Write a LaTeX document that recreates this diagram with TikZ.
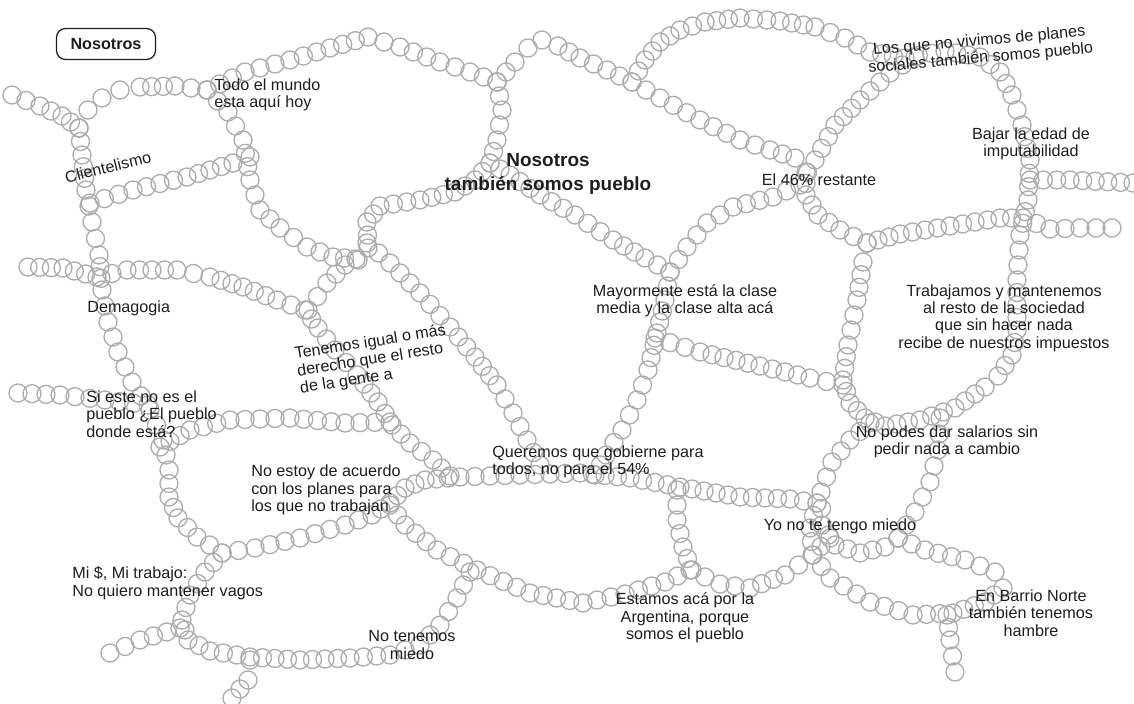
\documentclass[tikz,border=0pt]{standalone}
\usepackage{fontspec}
\setmainfont{Liberation Sans}
\definecolor{beadgray}{RGB}{172,172,172}
\definecolor{inkgray}{RGB}{30,30,30}
\newcommand{\beadline}[4]{%
  \pgfmathsetmacro\bl{veclen(#3-#1,#4-#2)}%
  \pgfmathtruncatemacro\bn{max(1,round(\bl/13.5))}%
  \foreach \k in {1,...,\bn}{%
    \pgfmathsetmacro\bx{#1+(#3-#1)*\k/\bn}%
    \pgfmathsetmacro\by{#2+(#4-#2)*\k/\bn}%
    \draw[bead] (\bx,\by) circle (1.8mm);}}
\newcommand{\beadchain}[3]{%
  \draw[bead] (#1,#2) circle (1.8mm);
  \foreach \x/\y [remember=\x as \lx (initially #1), remember=\y as \ly (initially #2)] in {#3}{\beadline{\lx}{\ly}{\x}{\y}}}
\begin{document}
\begin{tikzpicture}
[x=0.2mm,y=-0.2mm,
 bead/.style={draw=beadgray,line width=0.75pt},
 lbl/.style={font=\fontsize{9.2}{9.9}\selectfont,text=inkgray,inner sep=0pt},
 ttl/.style={font=\fontsize{10.8}{13.6}\selectfont\bfseries,text=inkgray,inner sep=0pt,align=center}]
\useasboundingbox (0,0) rectangle (1134,704);

\beadchain{12}{95}{40/106, 62/116, 79/128}
\beadchain{79}{128}{88/110, 102/98, 120/90, 140/87, 175/86, 207/90}
\beadchain{79}{128}{82/155, 86/190, 92/222, 99/255, 102/290, 108/322, 118/352, 132/382, 150/410, 163/440, 169/470, 169/497, 178/518, 197/537, 222/553, 255/548, 300/538, 345/525, 372/515, 390/503, 405/488, 425/480, 460/477, 520/475, 580/473, 630/478, 680/487, 740/497, 790/499, 817/503}
\beadchain{90}{203}{133/190, 187/177, 233/163, 250/157}
\beadchain{207}{90}{245/72, 290/60, 330/48, 368/37, 400/47, 440/62, 470/72, 497/82}
\beadchain{497}{82}{502/110, 497/140, 490/163, 510/175, 540/195, 575/215, 613/240, 645/258, 670/272}
\beadchain{497}{82}{515/62, 528/48, 542/40, 558/46, 580/58, 607/70, 632/82, 660/98, 700/120, 740/140, 770/150, 795/158, 806/172, 806/195, 818/215, 840/230, 867/243}
\beadchain{632}{82}{645/60, 660/42, 680/30, 705/22, 740/18, 780/21, 815/27, 845/38, 870/52, 905/58, 945/51, 980/57, 1000/72, 1012/95, 1022/125, 1030/160, 1028/200, 1020/235, 1017/280, 1017/330, 1012/355, 998/376, 985/387, 955/408, 920/420, 885/426, 865/418, 850/403, 843/380, 848/345, 857/300, 863/262, 867/243}
\beadchain{670}{272}{687/247, 707/223, 733/207, 773/197, 800/185, 815/160, 835/125, 860/100, 890/73, 915/57}
\beadchain{207}{90}{228/112, 243/140, 250/180, 260/210, 280/228, 307/247, 333/257, 356/259, 368/248, 367/222, 380/206, 420/200, 455/192, 475/180, 490/163}
\beadchain{367}{243}{390/263, 420/293, 450/327, 475/357, 497/385, 513/413, 527/440, 540/465}
\beadchain{28}{267}{63/268, 97/277, 127/270, 177/270, 210/277, 243/287, 277/300, 305/310, 318/328, 335/350, 357/375, 378/402, 392/425, 410/443, 433/460, 450/476}
\beadchain{308}{310}{327/283, 345/265, 358/260}
\beadchain{670}{272}{665/300, 657/333, 648/370, 637/400, 622/430, 606/455, 595/475}
\beadchain{655}{338}{700/352, 760/366, 810/378, 843/385}
\beadchain{18}{393}{60/395, 105/400, 148/405}
\beadchain{160}{447}{190/430, 230/420, 290/418, 345/423, 390/422}
\beadchain{390}{505}{405/525, 437/550, 477/570, 530/593, 583/603, 625/594, 665/582, 690/570, 720/584, 750/588, 785/575, 812/555, 830/538}
\beadchain{222}{553}{205/572, 190/595, 182/620, 188/640, 210/651, 250/657, 300/660, 350/658, 390/655, 420/645, 440/625, 457/598, 470/572}
\beadchain{110}{653}{140/640, 180/628}
\beadchain{250}{660}{248/680, 232/698}
\beadchain{677}{490}{677/520, 683/547, 692/570}
\beadchain{870}{423}{850/440, 832/462, 821/492, 822/525, 835/545, 860/553, 885/547, 898/538}
\beadchain{940}{418}{938/450, 930/482, 915/512, 898/538}
\beadchain{817}{503}{810/528, 813/555, 830/578, 870/602, 913/615, 953/613, 985/602, 1003/588, 995/572, 965/560, 925/550, 898/538}
\beadchain{947}{615}{950/640, 955/672}
\beadchain{1030}{180}{1070/180, 1133/183}
\beadchain{867}{243}{900/234, 950/226, 1000/218, 1023/218, 1050/229, 1080/228, 1112/228}

\node[draw=inkgray,rounded corners=1.8mm,line width=0.7pt,minimum width=19.8mm,minimum height=6.2mm,font=\fontsize{9.2}{10}\selectfont\bfseries,text=inkgray] (nos) at (106,44) {Nosotros};
\node[ttl] (tit) at (548,174) {Nosotros\\también somos pueblo};
\node[lbl,anchor=west,align=left] (todo) at (214,95) {Todo el mundo\\esta aquí hoy};
\node[lbl,rotate=14] (cli) at (108,167) {Clientelismo};
\node[lbl,anchor=west] (dem) at (87,308) {Demagogia};
\node[lbl,anchor=west,align=left] (sieste) at (86,414) {Si este no es el\\pueblo ¿El pueblo\\donde está?};
\node[lbl,rotate=9,align=left] (ten) at (373,360) {Tenemos igual o más\\derecho que el resto\\de la gente a};
\node[lbl,anchor=west,align=left] (noestoy) at (251,490) {No estoy de acuerdo\\con los planes para\\los que no trabajan};
\node[lbl,anchor=west,align=left] (mi) at (72,583) {Mi \$, Mi trabajo:\\No quiero mantener vagos};
\node[lbl,align=center] (notem) at (412,645) {No tenemos\\miedo};
\node[lbl,anchor=west,align=left] (quer) at (492,462) {Queremos que gobierne para\\todos, no para el 54\%};
\node[lbl,align=center] (mayor) at (685,301) {Mayormente está la clase\\media y la clase alta acá};
\node[lbl] (rest) at (819,180) {El 46\% restante};
\node[lbl,rotate=5,align=center] (losque) at (980,50) {Los que no vivimos de planes\\sociales también somos pueblo};
\node[lbl,align=center] (bajar) at (1031,144) {Bajar la edad de\\imputabilidad};
\node[lbl,align=center] (trab) at (1004,318) {Trabajamos y mantenemos\\al resto de la sociedad\\que sin hacer nada\\recibe de nuestros impuestos};
\node[lbl,align=center] (nopod) at (947,442) {No podes dar salarios sin\\pedir nada a cambio};
\node[lbl] (yono) at (840,526) {Yo no te tengo miedo};
\node[lbl,align=center] (estam) at (685,618) {Estamos acá por la\\Argentina, porque\\somos el pueblo};
\node[lbl,align=center] (barrio) at (1031,613) {En Barrio Norte\\también tenemos\\hambre};
\end{tikzpicture}
\end{document}
